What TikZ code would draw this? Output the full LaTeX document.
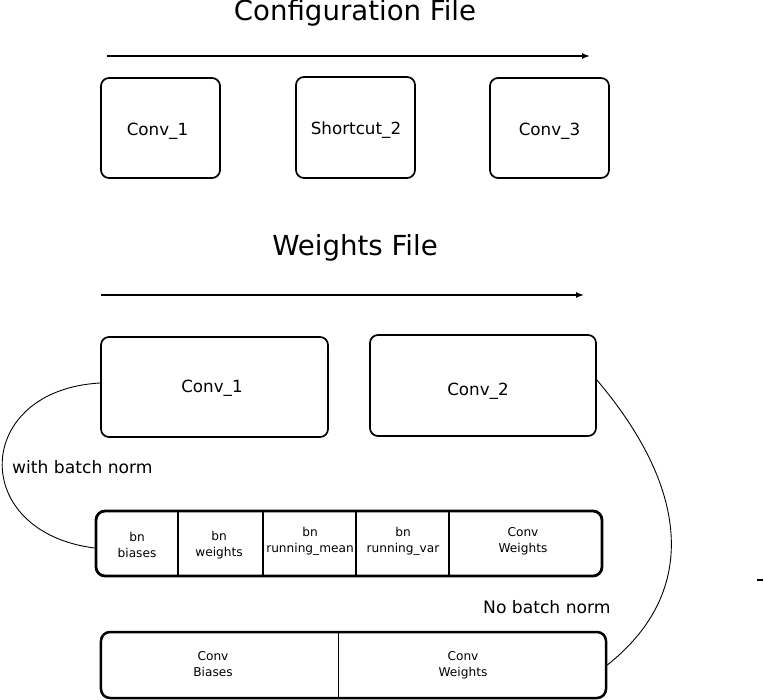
\documentclass[tikz,border=0pt]{standalone}
\usepackage{fontspec}
\setmainfont{DejaVu Sans}
\usetikzlibrary{arrows.meta}
\begin{document}
\begin{tikzpicture}[x=1bp,y=-1bp,
  box/.style={draw, line width=1.7bp, rounded corners=8bp, inner sep=0pt},
  rowbox/.style={draw, line width=2.8bp, rounded corners=9bp, inner sep=0pt},
  title/.style={font=\fontsize{27.7}{32}\selectfont, inner sep=0pt},
  lbl/.style={font=\fontsize{16.8}{20}\selectfont, inner sep=0pt, text depth=0pt},
  side/.style={font=\fontsize{17.2}{20}\selectfont, inner sep=0pt},
  cell/.style={font=\fontsize{12.2}{16}\selectfont, align=center, inner sep=0pt},
  flow/.style={line width=1.4bp, -{Latex[length=8bp,width=6bp]}},
  divider/.style={line width=1.2bp},
  link/.style={line width=0.9bp}]
\useasboundingbox (0,0) rectangle (764,700);
\fill[white] (0,0) rectangle (764,700);

% Configuration file
\node[title] (cfgtitle) at (355,13) {Configuration File};
\coordinate (a1s) at (107,56);
\coordinate (a1e) at (590,56);
\draw[flow] (a1s) -- (a1e);
\node[box, minimum width=119bp, minimum height=100bp] (c1) at (160.5,128) {};
\node[lbl] (c1t) at (157.5,129) {Conv\_1};
\node[box, minimum width=119bp, minimum height=101bp] (s2) at (355.5,127.5) {};
\node[lbl] (s2t) at (356,128) {Shortcut\_2};
\node[box, minimum width=119bp, minimum height=100bp] (c3) at (549.5,128) {};
\node[lbl] (c3t) at (549.5,129) {Conv\_3};

% Weights file
\node[title] (wtitle) at (355,248) {Weights File};
\coordinate (a2s) at (101,295);
\coordinate (a2e) at (584,295);
\draw[flow] (a2s) -- (a2e);
\node[box, minimum width=227bp, minimum height=100bp] (w1) at (214.5,387) {};
\node[lbl] (w1t) at (212,386) {Conv\_1};
\node[box, minimum width=226bp, minimum height=101bp] (w2) at (483,385.5) {};
\node[lbl] (w2t) at (478,389) {Conv\_2};

\node[side, anchor=west] (wbn) at (12,467) {with batch norm};
\node[side, anchor=west] (nbn) at (483,607) {No batch norm};

% batch norm row
\node[rowbox, minimum width=506bp, minimum height=65bp] (bnrow) at (349,543.5) {};
\coordinate (d1t) at (178,511); \coordinate (d1b) at (178,576);
\coordinate (d2t) at (263,511); \coordinate (d2b) at (263,576);
\coordinate (d3t) at (356,511); \coordinate (d3b) at (356,576);
\coordinate (d4t) at (449,511); \coordinate (d4b) at (449,576);
\draw[divider] (d1t) -- (d1b);
\draw[divider] (d2t) -- (d2b);
\draw[divider] (d3t) -- (d3b);
\draw[divider] (d4t) -- (d4b);
\node[cell] (bnb) at (137,545) {bn\\biases};
\node[cell] (bnw) at (219,545) {bn\\weights};
\node[cell] (bnm) at (310,541) {bn\\running\_mean};
\node[cell] (bnv) at (403,541) {bn\\running\_var};
\node[cell] (bcw) at (523,541) {Conv\\Weights};

% no batch norm row
\node[rowbox, line width=2.5bp, minimum width=505bp, minimum height=66bp] (nbrow) at (353.5,665) {};
\coordinate (e1t) at (338,632); \coordinate (e1b) at (338,698);
\draw[divider, line width=0.9bp] (e1t) -- (e1b);
\node[cell] (ncb) at (213,664) {Conv\\Biases};
\node[cell] (ncw) at (463,665) {Conv\\Weights};

% links
\draw[link] ([yshift=4bp]w1.west) .. controls (-27,390) and (-32,532) .. ([yshift=-4.5bp]bnrow.west);
\draw[link] ([yshift=5.5bp]w2.east) .. controls (686,485) and (702,590) .. (nbrow.east);

% stray tick
\coordinate (tk1) at (757,580); \coordinate (tk2) at (763,580);
\draw[line width=2bp] (tk1) -- (tk2);
\end{tikzpicture}
\end{document}
